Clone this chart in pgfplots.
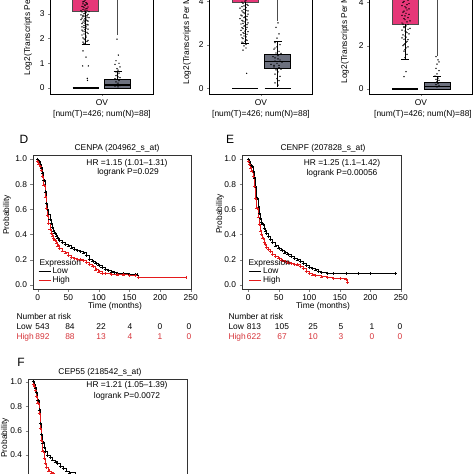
\documentclass[border=0pt]{standalone}
\usepackage{fontspec}
\setmainfont{Liberation Sans}
\usepackage{pgfplots}
\pgfplotsset{compat=1.18}
\newcommand{\fs}{\fontsize{8.4}{10}\selectfont}
\definecolor{pinkc}{RGB}{230,55,120}
\definecolor{grayc}{RGB}{108,112,126}
\definecolor{kmred}{RGB}{228,26,28}
\definecolor{txtred}{RGB}{214,52,58}
\pgfplotsset{
  bx/.style={anchor=south west, scale only axis, width=103pt, height=104pt,
    xmin=0, xmax=103, xtick={52}, xticklabels={OV},
    tick align=outside, xtick pos=bottom, ytick pos=left, major tick length=2pt,
    tick label style={font=\fs}, /pgf/number format/assume math mode=true,
    axis line style={black, line width=0.5pt}},
  km/.style={anchor=south west, scale only axis,
    ytick={0,0.2,0.4,0.6,0.8,1.0}, xtick={0,50,100,150,200,250},
    yticklabel style={/pgf/number format/.cd, fixed, fixed zerofill, precision=1},
    tick align=outside, xtick pos=bottom, ytick pos=left, major tick length=2.5pt,
    tick label style={font=\fs}, /pgf/number format/assume math mode=true,
    axis line style={black!80, line width=0.5pt},
    legend image code/.code={\draw[#1, line width=0.8pt] (0pt,0pt) -- (12pt,0pt);},
    legend style={draw=none, fill=none, font=\fs, inner sep=0pt, row sep=-1.5pt,
      nodes={inner sep=1.5pt}, cells={anchor=west}}},
  lowc/.style={black, const plot, line width=0.9pt, mark=+, mark size=1.5pt, mark options={line width=0.5pt}},
  highc/.style={kmred, const plot, line width=0.9pt, mark=+, mark size=1.5pt, mark options={line width=0.5pt}},
  dots/.style={only marks, mark=*, mark size=0.45pt, black},
  wh/.style={black, line width=0.5pt},
  med/.style={black, line width=1.2pt}
}
\begin{document}
\begin{tikzpicture}[x=1pt,y=1pt]
\useasboundingbox (0,0) rectangle (474,-474);
\clip (0,0) rectangle (474,-474);

% ---------------- Box panel 1
\begin{axis}[bx, at={(50pt,-94pt)}, ymin=-0.242, ymax=3.957, ytick={0,1,2,3}]
\addplot[fill=pinkc, draw=black!70, line width=0.5pt] coordinates {(22.5,3.1)(48.5,3.1)(48.5,4.6)(22.5,4.6)} -- cycle;
\addplot[wh] coordinates {(35.5,3.1)(35.5,1.76)};
\addplot[wh] coordinates {(31.5,1.76)(39.5,1.76)};
\addplot[fill=grayc, draw=black, line width=0.5pt] coordinates {(54.5,0)(80.5,0)(80.5,0.34)(54.5,0.34)} -- cycle;
\addplot[med] coordinates {(54.5,0.12)(80.5,0.12)};
\addplot[wh] coordinates {(67.5,0.34)(67.5,0.68)};
\addplot[wh] coordinates {(63.5,0.68)(71.5,0.68)};
\addplot[black!70, line width=0.5pt] coordinates {(67.5,2.14)(67.5,5)};
\addplot[dots] coordinates {(34,3.5)(36,3.45)(33,3.4)(37,3.38)(35,3.33)(32,3.3)(38,3.27)(34,3.24)(36,3.2)(33,3.17)(37,3.14)(35,3.1)(32,3.07)(36,3.04)(34,3.0)(38,2.97)(33,2.93)(35,2.9)(37,2.86)(32,2.82)(36,2.78)(34,2.74)(38,2.7)(33,2.66)(35,2.62)(37,2.57)(34,2.52)(32,2.47)(36,2.42)(35,2.36)(33,2.3)(37,2.25)(34,2.18)(36,2.1)(33,2.02)(35,1.95)(37,1.88)(34,1.8)(33,1.5)(36,1.25)(32.7,0.89)(38.3,0.89)(37.3,0.39)(37.5,0.31)
(35,3.55)(33,3.48)(37,3.42)(35,3.36)(33,3.28)(37,3.22)(35,3.15)(31,3.12)(39,3.08)(35,3.02)(31,2.95)(37,2.92)(33,2.88)(39,2.84)(35,2.8)(31,2.76)(37,2.72)(35,2.68)(32,2.6)(38,2.55)(36,2.5)(34,2.44)(38,2.38)(32,2.34)(35,2.28)(38,2.2)(32,2.14)(36,2.05)(34,1.98)(38,1.92)(33,1.85)};
\addplot[dots] coordinates {(67,1.97)(68.3,1.33)(66,1.1)(69,1.0)(65,0.95)(70,0.85)(67,0.78)(68,0.72)(66,0.65)(69,0.6)(67.5,0.55)(66,0.5)(68,0.45)(70,0.42)(65,0.38)(67,0.35)(69,0.3)(66,0.25)(68,0.2)(67,0.15)(70,0.1)(65,0.08)(68,0.05)};
\addplot[black, line width=1.6pt] coordinates {(22.5,0)(48.5,0)};
\end{axis}
\node[rotate=90, anchor=west, font=\fs] at (28,-79) {Log2(Transcripts Per Million)};
\node[font=\fs] at (102,-114) {[num(T)=426; num(N)=88]};

% ---------------- Box panel 2
\begin{axis}[bx, at={(209pt,-94pt)}, ymin=-0.26, ymax=4.51, ytick={0,2,4}]
\addplot[fill=pinkc, draw=black!70, line width=0.5pt] coordinates {(23,3.95)(49,3.95)(49,5)(23,5)} -- cycle;
\addplot[wh] coordinates {(36,3.95)(36,2.05)};
\addplot[wh] coordinates {(32,2.05)(40,2.05)};
\addplot[fill=grayc, draw=black, line width=0.5pt] coordinates {(55.5,0.92)(81.5,0.92)(81.5,1.56)(55.5,1.56)} -- cycle;
\addplot[med] coordinates {(55.5,1.22)(81.5,1.22)};
\addplot[wh] coordinates {(68.5,1.56)(68.5,2.14)};
\addplot[wh] coordinates {(64.5,2.14)(72.5,2.14)};
\addplot[wh] coordinates {(68.5,0.92)(68.5,0.05)};
\addplot[black!70, line width=0.5pt] coordinates {(68.5,3.1)(68.5,5)};
\addplot[dots] coordinates {(36,4.0)(34,3.9)(38,3.85)(33,3.75)(37,3.7)(35,3.62)(39,3.55)(34,3.5)(36,3.42)(32,3.36)(38,3.3)(35,3.24)(37,3.18)(33,3.12)(36,3.05)(34,2.98)(38,2.92)(35,2.85)(33,2.78)(37,2.7)(36,2.62)(34,2.55)(38,2.48)(35,2.4)(33,2.32)(37,2.24)(36,2.16)(34,2.08)(35,1.95)(37,1.85)(34,1.75)(37.7,0.69)
(35,4.1)(37,4.05)(33,3.95)(39,3.8)(35,3.78)(31,3.68)(37,3.58)(33,3.55)(35,3.46)(39,3.4)(33,3.32)(36,3.28)(31,3.2)(38,3.14)(34,3.08)(39,3.0)(32,2.95)(36,2.88)(38,2.8)(34,2.74)(32,2.66)(39,2.6)(35,2.52)(32,2.45)(37,2.36)(34,2.28)(38,2.2)(33,2.12)(37,2.02)};
\addplot[dots] coordinates {(69,3.0)(67,2.8)(70,2.5)(68,2.3)(66,2.1)(71,2.0)(68,1.9)(65,1.8)(70,1.7)(67,1.62)(69,1.5)(66,1.4)(71,1.3)(68,1.15)(65,1.05)(70,0.95)(67,0.85)(69,0.75)(66,0.65)(71,0.55)(68,0.45)(70,0.35)(66,0.25)(69,0.15)
(66,1.85)(72,1.6)(64,1.45)(69,1.35)(73,1.2)(66,1.25)(62,1.1)(70,1.05)(65,0.98)(72,0.88)};
\addplot[black, line width=1.6pt] coordinates {(23,0)(49,0)};
\addplot[black, line width=1.6pt] coordinates {(55.5,0)(81.5,0)};
\end{axis}
\node[rotate=90, anchor=west, font=\fs] at (187,-88) {Log2(Transcripts Per Million)};
\node[font=\fs] at (261,-114) {[num(T)=426; num(N)=88]};

% ---------------- Box panel 3
\begin{axis}[bx, at={(369pt,-94pt)}, ymin=-0.23, ymax=4.574, ytick={0,2,4}]
\addplot[fill=pinkc, draw=black!70, line width=0.5pt] coordinates {(23,3.0)(49,3.0)(49,4.8)(23,4.8)} -- cycle;
\addplot[wh] coordinates {(36,3.0)(36,1.39)};
\addplot[wh] coordinates {(32,1.39)(40,1.39)};
\addplot[fill=grayc, draw=black, line width=0.5pt] coordinates {(55,0)(81,0)(81,0.3)(55,0.3)} -- cycle;
\addplot[med] coordinates {(55,0.1)(81,0.1)};
\addplot[wh] coordinates {(68,0.3)(68,0.57)};
\addplot[wh] coordinates {(64,0.57)(72,0.57)};
\addplot[black!70, line width=0.5pt] coordinates {(68,1.54)(68,5)};
\addplot[dots] coordinates {(37,4.3)(35,4.2)(39,4.1)(34,4.0)(38,3.9)(36,3.8)(40,3.7)(35,3.6)(37,3.5)(33,3.4)(39,3.3)(36,3.2)(38,3.1)(34,3.0)(37,2.92)(35,2.84)(39,2.76)(36,2.68)(38,2.6)(34,2.5)(37,2.4)(35,2.3)(38,2.2)(36,2.1)(34,2.0)(37,1.9)(35,1.75)(38,1.6)(36,1.45)(37,0.8)(35,0.57)
(36,4.25)(38,4.15)(35,4.05)(40,3.95)(33,3.85)(37,3.75)(38,3.65)(34,3.55)(40,3.45)(36,3.38)(35,3.25)(41,3.15)(33,3.05)(39,2.98)(35,2.88)(41,2.8)(33,2.72)(37,2.64)(40,2.55)(36,2.45)(33,2.36)(39,2.28)(37,2.15)(35,2.05)(39,1.95)(36,1.82)};
\addplot[dots] coordinates {(67,1.5)(69,1.35)(70,1.25)(68,1.15)(67,0.95)(70,0.85)(68,0.7)(66,0.6)(69,0.5)(67,0.45)(70,0.4)(68,0.35)(66,0.3)(69,0.25)(67,0.2)(70,0.15)(68,0.1)};
\addplot[black, line width=1.6pt] coordinates {(23,0)(49,0)};
\end{axis}
\node[rotate=90, anchor=west, font=\fs] at (345,-87) {Log2(Transcripts Per Million)};
\node[font=\fs] at (423,-114) {[num(T)=426; num(N)=88]};

% ---------------- KM D
\begin{axis}[km, at={(33pt,-289pt)}, width=158pt, height=134pt, xmin=-7.7, xmax=250.5, ymin=-0.032, ymax=1.032,
  legend style={at={(axis cs:0.5,0.15)}, anchor=north west}]
\addplot[lowc] coordinates {(0,1.0)(2,0.98)(4,0.96)(6,0.93)(8,0.89)(10,0.83)(12,0.74)(14,0.65)(16,0.6)(18,0.56)(20,0.52)(22,0.49)(24,0.46)(26,0.43)(28,0.41)(30,0.39)(33,0.37)(36,0.355)(40,0.34)(45,0.325)(50,0.31)(55,0.295)(60,0.28)(65,0.272)(70,0.265)(75,0.255)(80,0.235)(85,0.205)(90,0.185)(95,0.17)(100,0.155)(105,0.14)(110,0.125)(115,0.115)(120,0.105)(125,0.1)(130,0.095)(140,0.09)(150,0.085)(160,0.08)(163,0.08)};
\addlegendentry{Low}
\addplot[highc] coordinates {(0,0.98)(2,0.96)(4,0.94)(6,0.91)(8,0.86)(10,0.79)(12,0.7)(14,0.61)(16,0.55)(18,0.49)(20,0.44)(22,0.41)(24,0.39)(26,0.37)(28,0.355)(30,0.335)(33,0.31)(36,0.29)(40,0.27)(45,0.255)(50,0.235)(55,0.22)(60,0.21)(65,0.205)(70,0.2)(75,0.195)(80,0.18)(85,0.165)(90,0.15)(95,0.12)(100,0.105)(105,0.095)(110,0.09)(120,0.085)(130,0.08)(140,0.08)(150,0.078)(160,0.075)(164,0.06)(242,0.06)};
\addlegendentry{High}
\end{axis}
\node[font=\fs, anchor=west] at (36,-263) {Expression};
\node[font=\fontsize{12}{14}\selectfont] at (24,-139) {D};
\node[font=\fs] at (117,-148) {CENPA (204962\_s\_at)};
\node[font=\fs] at (127,-163) {HR =1.15 (1.01--1.31)};
\node[font=\fs] at (128,-172.5) {logrank P=0.029};
\node[font=\fs, rotate=90] at (7,-215) {Probability};
\node[font=\fs] at (115,-306) {Time (months)};
\node[font=\fs, anchor=west] at (13,-316) {Number at risk};
\node[font=\fs, anchor=west] at (13,-327) {Low};
\node[font=\fs, anchor=west, txtred] at (13,-337) {High};
\foreach \xx/\a/\b in {42.5/543/892, 70/84/88, 101/22/13, 130/4/4, 160/0/1, 189/0/0} {
  \node[font=\fs] at (\xx,-327) {\a};
  \node[font=\fs, txtred] at (\xx,-337) {\b};
}

% ---------------- KM E
\begin{axis}[km, at={(242pt,-289pt)}, width=159pt, height=134pt, xmin=-10.3, xmax=250.3, ymin=-0.032, ymax=1.032,
  legend style={at={(axis cs:0.5,0.15)}, anchor=north west}]
\addplot[lowc] coordinates {(0,1.0)(2,0.98)(4,0.96)(6,0.94)(8,0.9)(10,0.85)(12,0.78)(14,0.69)(16,0.62)(18,0.57)(20,0.53)(22,0.5)(24,0.48)(26,0.45)(28,0.43)(30,0.41)(33,0.385)(36,0.365)(40,0.34)(45,0.31)(50,0.29)(55,0.275)(60,0.255)(65,0.24)(70,0.225)(75,0.21)(80,0.2)(85,0.185)(90,0.17)(95,0.155)(100,0.14)(105,0.13)(110,0.12)(115,0.11)(120,0.1)(130,0.095)(140,0.09)(160,0.09)(180,0.09)(200,0.09)(241,0.09)};
\addlegendentry{Low}
\addplot[highc] coordinates {(0,0.98)(2,0.96)(4,0.93)(6,0.9)(8,0.86)(10,0.78)(12,0.69)(14,0.61)(16,0.54)(18,0.48)(20,0.43)(22,0.4)(24,0.37)(26,0.34)(28,0.32)(30,0.3)(33,0.28)(36,0.265)(40,0.245)(45,0.225)(50,0.21)(55,0.195)(60,0.185)(65,0.175)(70,0.17)(75,0.165)(80,0.16)(85,0.15)(90,0.13)(95,0.11)(100,0.09)(105,0.08)(110,0.075)(120,0.065)(130,0.06)(140,0.055)(150,0.05)(160,0.045)(163,0.02)};
\addlegendentry{High}
\end{axis}
\node[font=\fs, anchor=west] at (245,-263) {Expression};
\node[font=\fontsize{12}{14}\selectfont] at (230,-139) {E};
\node[font=\fs] at (323,-148) {CENPF (207828\_s\_at)};
\node[font=\fs] at (342,-163) {HR =1.25 (1.1--1.42)};
\node[font=\fs] at (342,-173) {logrank P=0.00056};
\node[font=\fs, rotate=90] at (220,-214) {Probability};
\node[font=\fs] at (323,-306) {Time (months)};
\node[font=\fs, anchor=west] at (225,-316) {Number at risk};
\node[font=\fs, anchor=west] at (225,-327) {Low};
\node[font=\fs, anchor=west, txtred] at (225,-337) {High};
\foreach \xx/\a/\b in {254/813/622, 282/105/67, 313/25/10, 341/5/3, 372/1/0, 400/0/0} {
  \node[font=\fs] at (\xx,-327) {\a};
  \node[font=\fs, txtred] at (\xx,-337) {\b};
}

% ---------------- KM F
\begin{axis}[km, at={(28pt,-508pt)}, width=159pt, height=129pt, xmin=-8.2, xmax=251.6, ymin=-0.033, ymax=1.022]
\addplot[lowc] coordinates {(0,1.0)(2,0.98)(4,0.95)(6,0.91)(8,0.85)(10,0.77)(12,0.66)(14,0.57)(16,0.5)(18,0.46)(20,0.43)(24,0.4)(28,0.38)(32,0.36)(36,0.345)(40,0.33)(45,0.31)(50,0.29)(55,0.27)(60,0.255)(70,0.23)(80,0.2)(90,0.17)(100,0.14)(120,0.1)(140,0.08)(160,0.07)(200,0.07)};
\addplot[highc] coordinates {(0,0.98)(2,0.96)(4,0.93)(6,0.88)(8,0.82)(10,0.74)(12,0.62)(14,0.52)(16,0.43)(18,0.37)(20,0.33)(22,0.3)(26,0.27)(30,0.255)(34,0.24)(40,0.22)(50,0.19)(60,0.17)(80,0.14)(100,0.1)(120,0.08)(160,0.06)};
\end{axis}
\node[font=\fontsize{12}{14}\selectfont] at (21,-362) {F};
\node[font=\fs] at (100,-372) {CEP55 (218542\_s\_at)};
\node[font=\fs] at (127,-385) {HR =1.21 (1.05--1.39)};
\node[font=\fs] at (127,-396) {logrank P=0.0072};
\node[font=\fs, rotate=90] at (5,-438) {Probability};
\end{tikzpicture}
\end{document}
